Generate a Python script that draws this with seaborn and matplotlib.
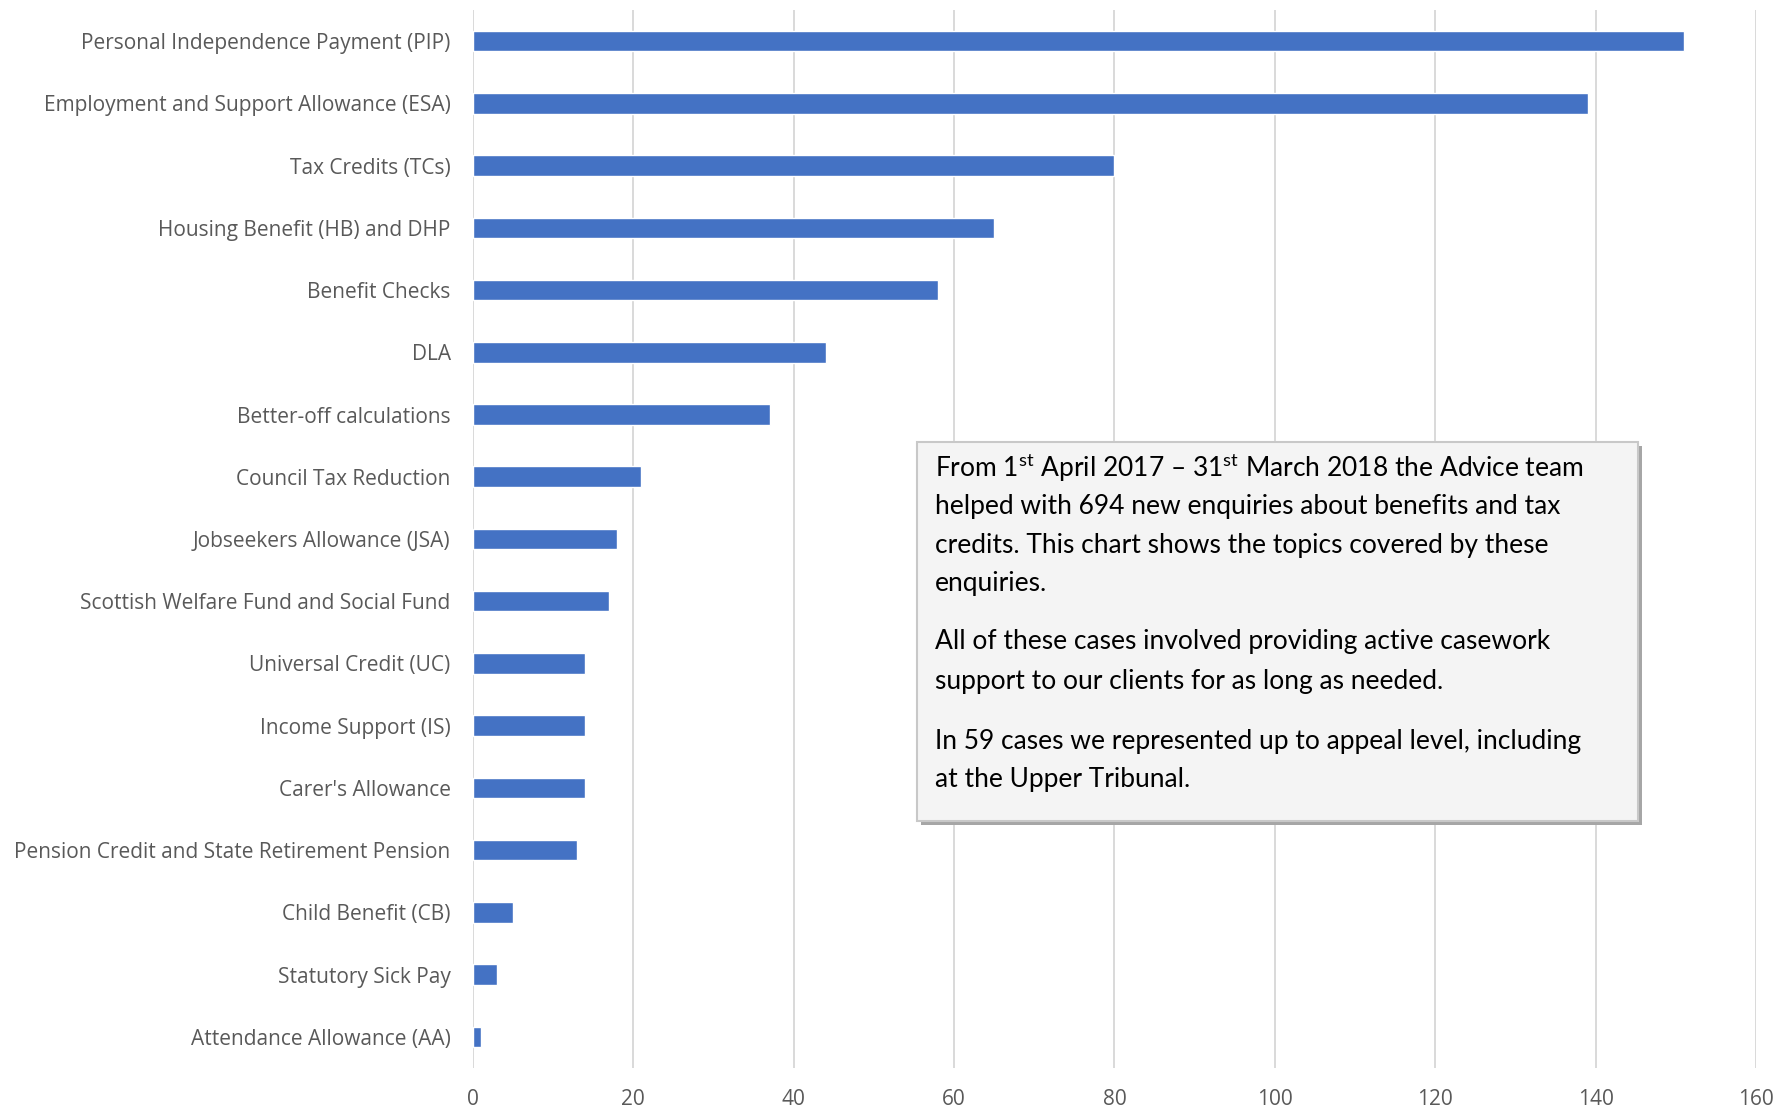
import matplotlib
matplotlib.use("Agg")
import matplotlib.pyplot as plt
import seaborn as sns
import pandas as pd
from matplotlib.patches import Rectangle

topics = [
    "Personal Independence Payment (PIP)",
    "Employment and Support Allowance (ESA)",
    "Tax Credits (TCs)",
    "Housing Benefit (HB) and DHP",
    "Benefit Checks",
    "DLA",
    "Better-off calculations",
    "Council Tax Reduction",
    "Jobseekers Allowance (JSA)",
    "Scottish Welfare Fund and Social Fund",
    "Universal Credit (UC)",
    "Income Support (IS)",
    "Carer's Allowance",
    "Pension Credit and State Retirement Pension",
    "Child Benefit (CB)",
    "Statutory Sick Pay",
    "Attendance Allowance (AA)",
]
enquiries = [151, 139, 80, 65, 58, 44, 37, 21, 18, 17, 14, 14, 14, 13, 5, 3, 1]
x_ticks = [0, 20, 40, 60, 80, 100, 120, 140, 160]

box_lines = [
    "From 1$^{\\mathrm{st}}$ April 2017 \u2013 31$^{\\mathrm{st}}$ March 2018 the Advice team",
    "helped with 694 new enquiries about benefits and tax",
    "credits. This chart shows the topics covered by these",
    "enquiries.",
    "All of these cases involved providing active casework",
    "support to our clients for as long as needed.",
    "In 59 cases we represented up to appeal level, including",
    "at the Upper Tribunal.",
]

df = pd.DataFrame({"topic": topics, "count": enquiries})

sns.set_style("white")
plt.rcParams["font.family"] = ["Open Sans", "DejaVu Sans"]
plt.rcParams["mathtext.fontset"] = "custom"
plt.rcParams["mathtext.rm"] = "Lato"

fig = plt.figure(figsize=(17.76, 11.12), dpi=100)
ax = fig.add_axes([0.2663, 0.0396, 0.7224, 0.9514])

sns.barplot(data=df, x="count", y="topic", orient="h", color="#4472C4",
            width=0.33, saturation=1, ax=ax)

ax.set_xlim(0, 160)
ax.set_xticks(x_ticks)
ax.set_ylim(len(topics) - 0.5, -0.5)
ax.set_xlabel("")
ax.set_ylabel("")
ax.grid(axis="x", color="#d9d9d9", linewidth=1.4)
ax.set_axisbelow(True)
for s in ax.spines.values():
    s.set_visible(False)
ax.tick_params(axis="y", length=0, pad=16, labelsize=15, labelcolor="#595959")
ax.tick_params(axis="x", length=0, pad=15, labelsize=15, labelcolor="#595959")

# text box with shadow
bx0, by0, bw, bh = 0.5163, 0.2617, 0.4060, 0.3408
fig.patches.append(Rectangle((bx0 + 0.002, by0 - 0.004), bw, bh, transform=fig.transFigure,
                             facecolor="#a6a6a6", edgecolor="none", zorder=5))
fig.patches.append(Rectangle((bx0, by0), bw, bh, transform=fig.transFigure,
                             facecolor="#f4f4f4", edgecolor="#c8c8c8", linewidth=1.5, zorder=6))

line_y = [468, 506, 545, 583, 642, 681, 742, 780]
for txt, y in zip(box_lines, line_y):
    fig.text(0.5265, 1 - y / 1112, txt, ha="left", va="center", fontsize=19,
             family=["Lato", "DejaVu Sans"], color="black", zorder=7)

fig.savefig("out.png", dpi=100)
